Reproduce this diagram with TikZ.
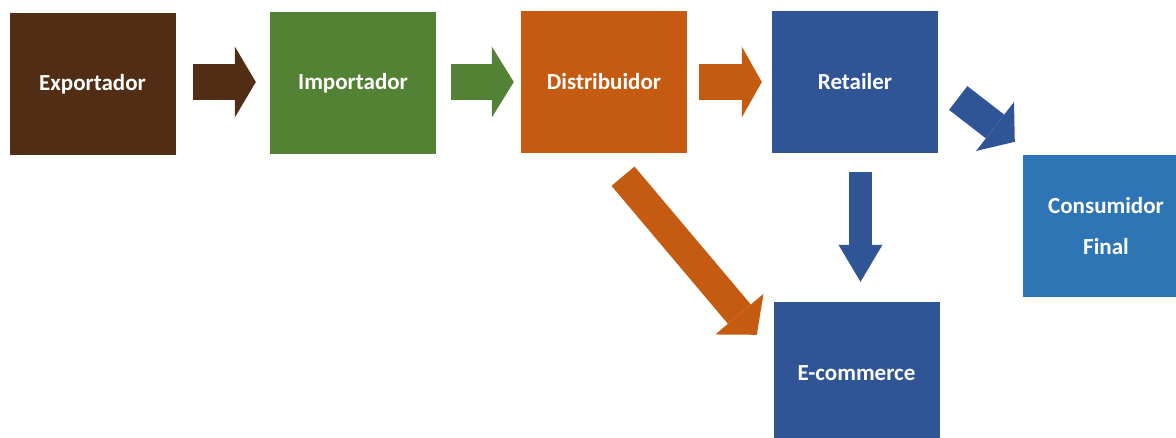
\documentclass[tikz,border=0pt]{standalone}
\usepackage{fontspec}
\setmainfont{Carlito}
\usetikzlibrary{arrows.meta}

\definecolor{exportbrown}{RGB}{80,45,20}
\definecolor{importgreen}{RGB}{84,130,53}
\definecolor{distorange}{RGB}{197,90,17}
\definecolor{retailblue}{RGB}{47,85,151}
\definecolor{finalblue}{RGB}{46,117,182}

\begin{document}
\begin{tikzpicture}[x=1pt, y=-1pt, line cap=butt,
    box/.style={minimum width=166pt, minimum height=142pt, inner sep=0pt, text=white, align=center, font=\fontsize{23}{41}\selectfont\bfseries},
    flow/.style n args={3}{line width=#1, -{Triangle[width=#2, length=#3, line width=0pt]}}]
        \useasboundingbox (0, 0) rectangle (1176, 438);
        % draw boxes of the chain
        \node[box, fill=exportbrown] (exp) at (92.5, 84) {Exportador};
        \node[box, fill=importgreen] (imp) at (353, 83) {Importador};
        \node[box, fill=distorange] (dist) at (604, 82) {Distribuidor};
        \node[box, fill=retailblue] (ret) at (855, 82) {Retailer};
        \node[box, fill=finalblue] (cons) at (1106, 226) {Consumidor\\Final};
        \node[box, fill=retailblue] (ecom) at (856.5, 373) {E-commerce};
        % draw arrows along the top row
        \draw[flow={36pt}{71pt}{21pt}, draw=exportbrown, shorten <=17.5pt, shorten >=14pt] ([yshift=2pt]exp.east) -- ([yshift=1pt]imp.west);
        \draw[flow={36pt}{71pt}{22pt}, draw=importgreen, shorten <=15pt, shorten >=7pt] ([yshift=1pt]imp.east) -- (dist.west);
        \draw[flow={36pt}{71pt}{20pt}, draw=distorange, shorten <=12pt, shorten >=10pt] (dist.east) -- (ret.west);
        % draw arrow from retailer down to e-commerce
        \draw[flow={23pt}{44pt}{37pt}, draw=retailblue, shorten <=19pt, shorten >=20pt] ([xshift=5.5pt]ret.south) -- ([xshift=4pt]ecom.north);
        % draw diagonal arrows
        \draw[flow={30pt}{63pt}{27pt}, draw=distorange] ([xshift=19pt, yshift=-23pt]dist.south) -- ([xshift=-16.5pt, yshift=-33pt]ecom.north west);
        \draw[flow={30pt}{62pt}{25pt}, draw=retailblue] ([xshift=20pt, yshift=-16pt]ret.east) -- ([xshift=-8pt, yshift=13pt]cons.north west);
\end{tikzpicture}
\end{document}
